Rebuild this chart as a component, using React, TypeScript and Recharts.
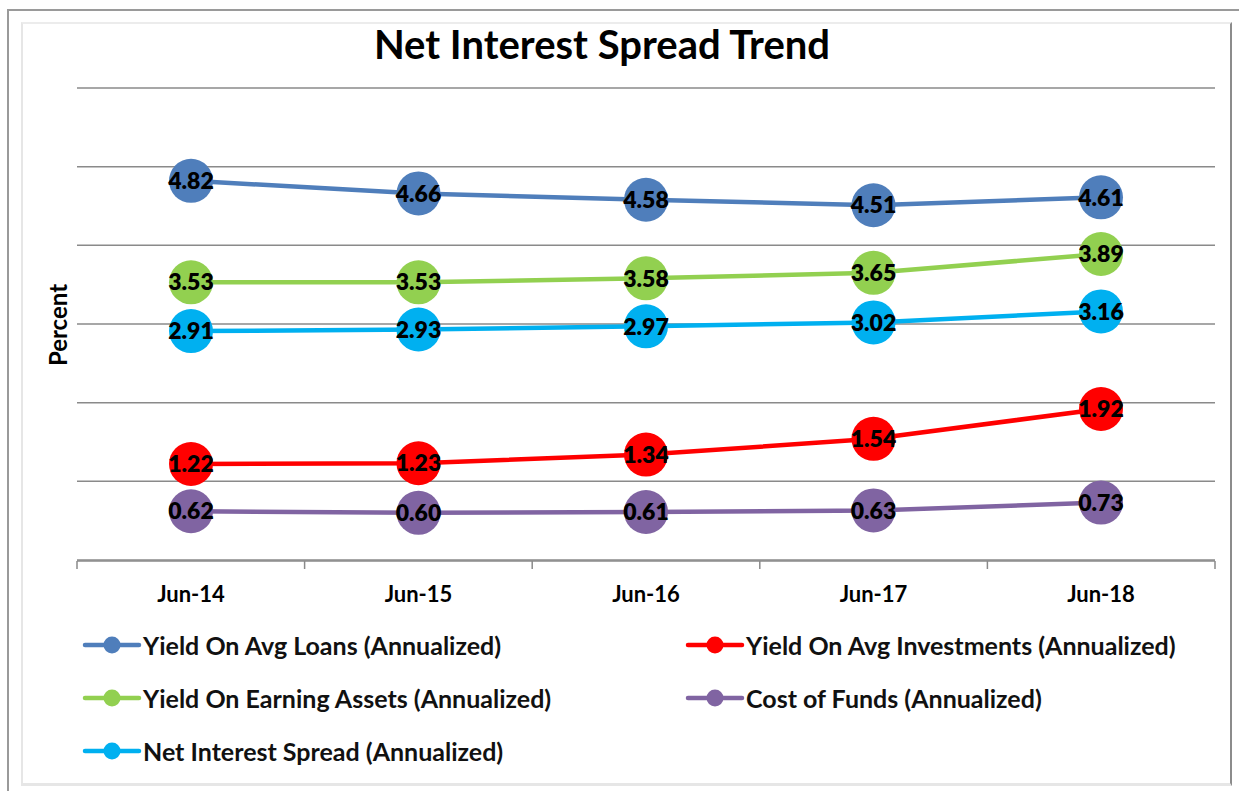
import React from 'react';
import {
  LineChart,
  Line,
  XAxis,
  YAxis,
  CartesianGrid,
  LabelList,
} from 'recharts';

const categories = ['Jun-14', 'Jun-15', 'Jun-16', 'Jun-17', 'Jun-18'];
const yieldLoans = [4.82, 4.66, 4.58, 4.51, 4.61];
const yieldInvestments = [1.22, 1.23, 1.34, 1.54, 1.92];
const yieldEarningAssets = [3.53, 3.53, 3.58, 3.65, 3.89];
const costOfFunds = [0.62, 0.6, 0.61, 0.63, 0.73];
const netSpread = [2.91, 2.93, 2.97, 3.02, 3.16];
const yTicks = [0, 1, 2, 3, 4, 5, 6];

const FONT = 'Lato, "Open Sans", sans-serif';

const series = [
  { key: 'loans', name: 'Yield On Avg Loans (Annualized)', color: '#4F7EBB', values: yieldLoans },
  { key: 'inv', name: 'Yield On Avg Investments (Annualized)', color: '#FF0000', values: yieldInvestments },
  { key: 'earn', name: 'Yield On Earning Assets (Annualized)', color: '#92D050', values: yieldEarningAssets },
  { key: 'cof', name: 'Cost of Funds (Annualized)', color: '#8064A2', values: costOfFunds },
  { key: 'nis', name: 'Net Interest Spread (Annualized)', color: '#00B0F0', values: netSpread },
];

// draw order: later ones on top
const drawOrder = ['loans', 'earn', 'nis', 'inv', 'cof'];

const data = categories.map((c, i) => {
  const row: Record<string, string | number> = { cat: c, idx: i + 0.5 };
  series.forEach((s) => {
    row[s.key] = s.values[i];
  });
  return row;
});

function ChartLegend() {
  return (
    <div
      style={{
        position: 'absolute',
        left: 82,
        top: 630,
        display: 'grid',
        gridTemplateColumns: '603px 520px',
        rowGap: 23,
        fontFamily: FONT,
        fontWeight: 700,
        fontSize: 25,
        color: '#111',
      }}
    >
      {series.map((s) => (
        <div key={s.key} style={{ display: 'flex', alignItems: 'center', height: 30 }}>
          <svg width={61} height={20}>
            <line x1={3} y1={10} x2={57} y2={10} stroke={s.color} strokeWidth={4.5} strokeLinecap="round" />
            <circle cx={30} cy={10} r={8.5} fill={s.color} />
          </svg>
          <span>{s.name}</span>
        </div>
      ))}
    </div>
  );
}

export default function App() {
  return (
    <div style={{ position: 'absolute', left: 0, top: 0, width: 1239, height: 791, background: '#fff', overflow: 'hidden' }}>
      <div style={{ position: 'absolute', left: 7, top: 9, width: 1300, height: 900, borderLeft: '2px solid #9a9a9a', borderTop: '2px solid #9a9a9a' }} />
      <div
        style={{
          position: 'absolute',
          left: 21,
          top: 22,
          width: 1207,
          height: 759,
          borderLeft: '2px solid #e6e6e6',
          borderTop: '2px solid #ececec',
          borderBottom: '3px solid #e6e6e6',
          borderRight: '2px solid #8c8c8c',
        }}
      />
      <div
        style={{
          position: 'absolute',
          left: 0,
          width: 1204,
          top: 20,
          textAlign: 'center',
          fontFamily: FONT,
          fontWeight: 700,
          fontSize: 40,
          color: '#000',
        }}
      >
        Net Interest Spread Trend
      </div>
      <div
        style={{
          position: 'absolute',
          left: 57,
          top: 325,
          transform: 'translate(-50%, -50%) rotate(-90deg)',
          fontFamily: FONT,
          fontWeight: 700,
          fontSize: 24,
          color: '#000',
        }}
      >
        Percent
      </div>
      <div style={{ position: 'absolute', left: 0, top: 0 }}>
        <LineChart width={1239} height={791} data={data} margin={{ top: 88, right: 24, bottom: 229, left: 77 }}>
          <CartesianGrid vertical={false} stroke="#8a8a8a" strokeWidth={1.5} />
          <YAxis hide domain={[0, 6]} ticks={yTicks} width={0} />
          <XAxis
            dataKey="cat"
            height={1}
            padding={{ left: 114, right: 114 }}
            axisLine={false}
            tickLine={false}
            tickSize={0}
            tickMargin={26}
            tick={{ fontFamily: FONT, fontWeight: 700, fontSize: 22, fill: '#000' }}
          />
          <XAxis
            xAxisId="frame"
            type="number"
            dataKey="idx"
            domain={[0, 5]}
            ticks={[0, 1, 2, 3, 4, 5]}
            height={1}
            orientation="bottom"
            tick={() => <g />}
            tickSize={8}
            axisLine={{ stroke: '#8a8a8a', strokeWidth: 1.5 }}
            tickLine={{ stroke: '#8a8a8a', strokeWidth: 1.5 }}
          />
          {drawOrder.map((k) => {
            const s = series.find((x) => x.key === k)!;
            return (
              <Line
                key={s.key}
                dataKey={s.key}
                name={s.name}
                stroke={s.color}
                strokeWidth={4.5}
                type="linear"
                dot={{ r: 22, fill: s.color, stroke: 'none', strokeWidth: 0 }}
                activeDot={false}
                isAnimationActive={false}
              >
                <LabelList
                  dataKey={s.key}
                  position="center"
                  formatter={(v: number) => v.toFixed(2)}
                  style={{ fontFamily: FONT, fontWeight: 800, fontSize: 23, fill: '#000' }}
                />
              </Line>
            );
          })}
        </LineChart>
      </div>
      <ChartLegend />
    </div>
  );
}
